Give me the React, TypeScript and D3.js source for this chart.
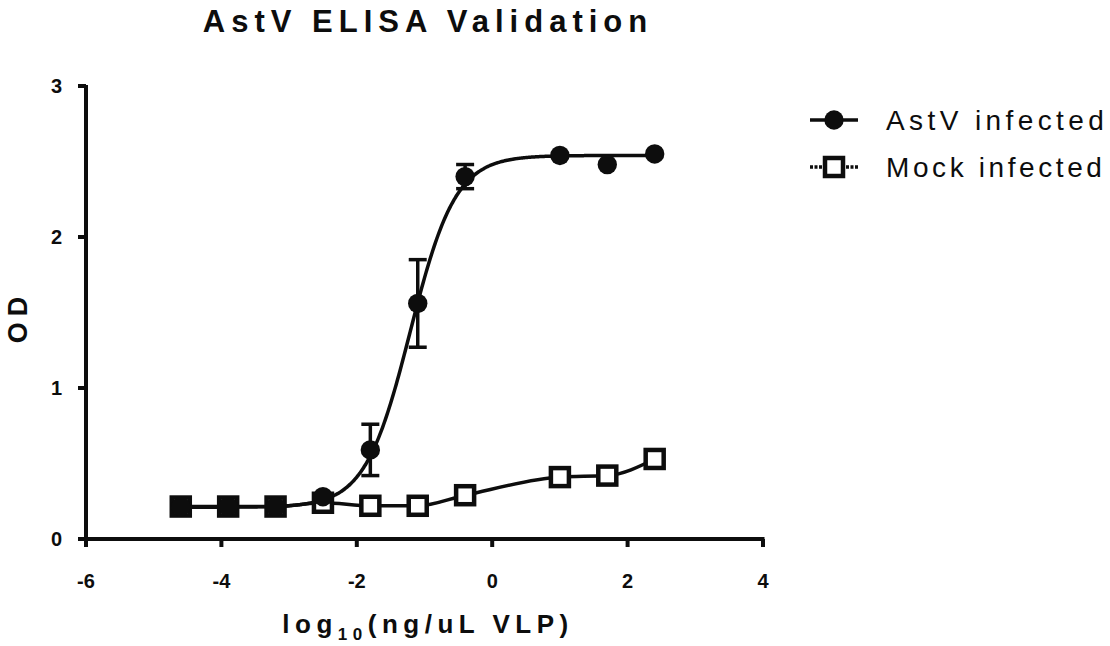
import React from "react";
import * as d3 from "d3";

const xValues = [-4.6, -3.9, -3.2, -2.5, -1.8, -1.1, -0.4, 1.0, 1.7, 2.4];
const astvMean = [0.215, 0.215, 0.215, 0.28, 0.59, 1.56, 2.4, 2.54, 2.48, 2.55];
const astvErr = [0, 0, 0, 0, 0.17, 0.29, 0.08, 0, 0, 0];
const mockMean = [0.215, 0.215, 0.215, 0.24, 0.22, 0.22, 0.29, 0.41, 0.42, 0.53];
const xTicks = [-6, -4, -2, 0, 2, 4];
const yTicks = [0, 1, 2, 3];
// 4PL fit parameters for the AstV curve
const fitBottom = 0.21;
const fitTop = 2.54;
const fitLogEC50 = -1.21;
const fitHill = 1.3;
const seriesNames = ["AstV infected", "Mock infected"];

const FONT = "'Liberation Sans', Arial, Helvetica, sans-serif";

export default function App() {
  const x = d3.scaleLinear().domain([-6, 4]).range([86, 763]);
  const y = d3.scaleLinear().domain([0, 3]).range([539, 86]);

  const fitXs = d3.range(xValues[0], xValues[xValues.length - 1] + 0.001, 0.02);
  const fitFn = (v: number) =>
    fitBottom + (fitTop - fitBottom) / (1 + Math.pow(10, (fitLogEC50 - v) * fitHill));
  const fitLine = d3
    .line<number>()
    .x((d) => x(d))
    .y((d) => y(fitFn(d)))
    .curve(d3.curveBasis)(fitXs) as string;

  const mockLine = d3
    .line<number>()
    .x((d, i) => x(xValues[i]))
    .y((d) => y(d))
    .curve(d3.curveMonotoneX)(mockMean) as string;

  const axisW = 4;
  const lineW = 3.5;
  const sq = 18;
  const sqW = 4.5;
  const r = 9.7;
  const ink = "#0d0d0d";

  return (
    <svg
      width={1110}
      height={646}
      style={{ position: "absolute", left: 0, top: 0, background: "#fff" }}
      fontFamily={FONT}
    >
      <rect x={0} y={0} width={1110} height={646} fill="#fff" />
      {/* Title */}
      <text
        x={428}
        y={32}
        textAnchor="middle"
        fontSize={31}
        fontWeight="bold"
        letterSpacing={6}
        fill={ink}
      >
        AstV ELISA Validation
      </text>

      {/* Axes */}
      <line x1={x(-6)} x2={x(-6)} y1={y(3) - 1} y2={y(0) + 8} stroke={ink} strokeWidth={axisW} />
      <line x1={x(-6) - 8} x2={x(4) + 1.5} y1={y(0)} y2={y(0)} stroke={ink} strokeWidth={axisW} />
      {yTicks.map((t) => (
        <g key={"yt" + t}>
          <line x1={x(-6) - 8} x2={x(-6)} y1={y(t)} y2={y(t)} stroke={ink} strokeWidth={axisW} />
          <text
            x={x(-6) - 24}
            y={y(t)}
            dy="0.36em"
            textAnchor="end"
            fontSize={20}
            fontWeight="bold"
            fill={ink}
          >
            {t}
          </text>
        </g>
      ))}
      {xTicks.map((t) => (
        <g key={"xt" + t}>
          <line x1={x(t)} x2={x(t)} y1={y(0)} y2={y(0) + 8} stroke={ink} strokeWidth={axisW} />
          <text
            x={x(t)}
            y={y(0) + 49}
            textAnchor="middle"
            fontSize={20}
            fontWeight="bold"
            fill={ink}
          >
            {t < 0 ? "-" + Math.abs(t) : String(t)}
          </text>
        </g>
      ))}

      {/* Axis labels */}
      <text
        transform={`translate(27,${317}) rotate(-90)`}
        textAnchor="middle"
        fontSize={27}
        fontWeight="bold"
        letterSpacing={6}
        fill={ink}
      >
        OD
      </text>
      <text x={428} y={633} textAnchor="middle" fontSize={26} fontWeight="bold" letterSpacing={5.5} fill={ink}>
        log
        <tspan fontSize={17} dy={7}>10</tspan>
        <tspan dy={-7}>(ng/uL VLP)</tspan>
      </text>

      {/* Mock series */}
      <path d={mockLine} fill="none" stroke={ink} strokeWidth={lineW} />
      {mockMean.map((v, i) => (
        <rect
          key={"m" + i}
          x={x(xValues[i]) - sq / 2}
          y={y(v) - sq / 2}
          width={sq}
          height={sq}
          fill="#fff"
          stroke={ink}
          strokeWidth={sqW}
        />
      ))}

      {/* AstV series */}
      <path d={fitLine} fill="none" stroke={ink} strokeWidth={lineW} />
      {astvMean.map((v, i) =>
        astvErr[i] > 0 ? (
          <g key={"e" + i} stroke={ink} strokeWidth={lineW}>
            <line x1={x(xValues[i])} x2={x(xValues[i])} y1={y(v + astvErr[i])} y2={y(v - astvErr[i])} />
            <line x1={x(xValues[i]) - 9} x2={x(xValues[i]) + 9} y1={y(v + astvErr[i])} y2={y(v + astvErr[i])} />
            <line x1={x(xValues[i]) - 9} x2={x(xValues[i]) + 9} y1={y(v - astvErr[i])} y2={y(v - astvErr[i])} />
          </g>
        ) : null
      )}
      {astvMean.map((v, i) => (
        <circle key={"a" + i} cx={x(xValues[i])} cy={y(v)} r={r} fill={ink} />
      ))}

      {/* Legend */}
      <g>
        <line x1={810} x2={858} y1={120} y2={120} stroke={ink} strokeWidth={lineW} />
        <circle cx={834} cy={120} r={r} fill={ink} />
        <text x={886} y={130} fontSize={28} letterSpacing={4.4} fill={ink}>
          {seriesNames[0]}
        </text>
        <line x1={810} x2={858} y1={167} y2={167} stroke={ink} strokeWidth={lineW} strokeDasharray="3 1.5" />
        <rect x={834 - sq / 2} y={167 - sq / 2} width={sq} height={sq} fill="#fff" stroke={ink} strokeWidth={sqW} />
        <text x={886} y={177} fontSize={28} letterSpacing={3.6} fill={ink}>
          {seriesNames[1]}
        </text>
      </g>
    </svg>
  );
}
